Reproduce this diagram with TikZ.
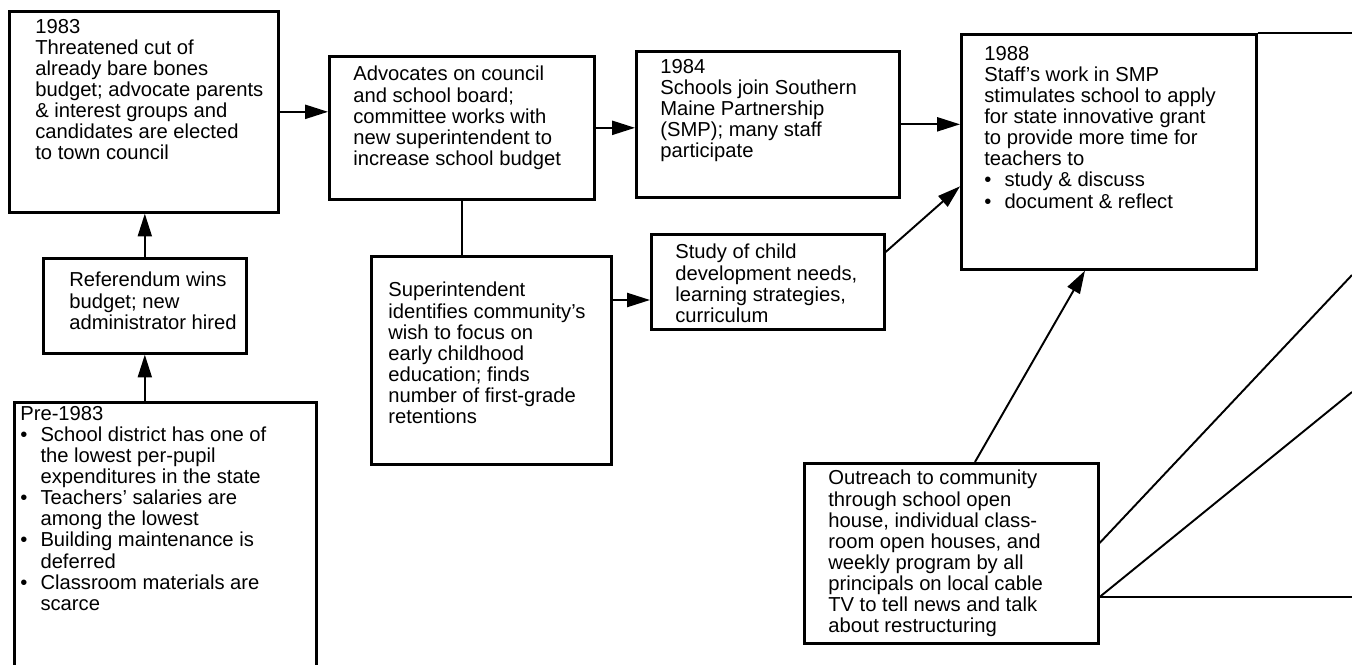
\documentclass[tikz,border=0pt]{standalone}
\usepackage{fontspec}
\setmainfont{Liberation Sans}
\usetikzlibrary{arrows.meta}
\newlength\px
\setlength\px{0.02cm}
% box text: width, height, left pad, top pad, text
\newcommand{\boxtext}[5]{%
  \begin{minipage}[t][#2\px][t]{#1\px}%
    \vspace*{#4\px}\leftskip=#3\px\rightskip=0pt plus 1fil
    #5%
  \end{minipage}}
\newcommand{\itm}{\par\hangindent=1em\hangafter=1\noindent\makebox[1em][l]{\textbullet}}
\tikzset{
  box/.style={draw, line width=1.5pt, anchor=north west, inner sep=0pt,
    font=\fontsize{11.5}{12}\selectfont},
  link/.style={line width=1.1pt},
  arr/.style={link, -{Triangle[length=13pt, width=8pt]}},
}
\begin{document}
\begin{tikzpicture}[x=0.02cm, y=-0.02cm]
   \useasboundingbox (0,0) rectangle (1352,664);
   \def \Boxes {
      A/8/10/269/201/26/8/{1983\\ Threatened cut of\\ already bare bones\\ budget; advocate parents\\ \& interest groups and\\ candidates are elected\\ to town council},
      H/42/257/203/95/26/14/{Referendum wins\\ budget; new\\ administrator hired},
      I/13/401/302/275/6/4/{Pre-1983\itm School district has one of\\ the lowest per-pupil\\ expenditures in the state\itm Teachers' salaries are\\ among the lowest\itm Building maintenance is\\ deferred\itm Classroom materials are\\ scarce},
      B/328/55/265/143/24/10/{Advocates on council\\ and school board;\\ committee works with\\ new superintendent to\\ increase school budget},
      C/370/255/240/208/17/26/{Superintendent\\ identifies community's\\ wish to focus on\\ early childhood\\ education; finds\\ number of first-grade\\ retentions},
      D/650/233/233/95/24/10/{Study of child\\ development needs,\\ learning strategies,\\ curriculum},
      F/635/50/263/146/24/8/{1984\\ Schools join Southern\\ Maine Partnership\\ (SMP); many staff\\ participate},
      E/960/33/295/235/23/12/{1988\\ Staff's work in SMP\\ stimulates school to apply\\ for state innovative grant\\ to provide more time for\\ teachers to\itm study \& discuss\itm document \& reflect},
      G/803/462/294/180/24/7/{Outreach to community\\ through school open\\ house, individual class-\\ room open houses, and\\ weekly program by all\\ principals on local cable\\ TV to tell news and talk\\ about restructuring}}
   \foreach \u / \x / \y / \w / \h / \sx / \sy / \txt in \Boxes {
      \node[box] (\u) at (\x, \y) {\boxtext{\w}{\h}{\sx}{\sy}{\txt}};
   }
   \draw[arr] (A.east) -- (A.east -| B.west);
   \draw[arr] (B.east) -- (B.east -| F.west);
   \draw[arr] (F.east) -- (F.east -| E.west);
   \draw[arr] (H.north) -- (H.north |- A.south);
   \draw[arr] (I.north -| H.south) -- (H.south);
   \draw[link] (B.south) -- (B.south |- C.north);
   \draw[arr] ([yshift=-0.9cm]C.north east) coordinate (c1) -- (c1 -| D.west);
   \draw[arr] ([yshift=-0.38cm]D.north east) -- ([yshift=-0.69cm]E.west);
   \draw[arr] ([xshift=3.44cm]G.north west) -- ([xshift=2.5cm]E.south west);
   % lines going on past the page edge
   \coordinate (o0) at (1352,33);
   \coordinate (o1) at (1352,275);
   \coordinate (o2) at (1352,392);
   \draw[link] (E.north east) -- (o0);
   \draw[link] ([yshift=-1.62cm]G.north east) -- (o1);
   \draw[link] ([yshift=-2.7cm]G.north east) coordinate (g2) -- (o2);
   \draw[link] (g2) -- (g2 -| o2);
\end{tikzpicture}
\end{document}
